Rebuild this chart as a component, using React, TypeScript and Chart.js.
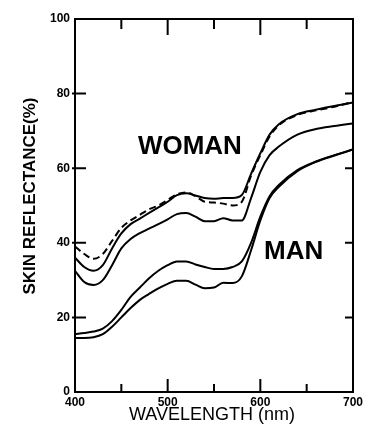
import React, { useEffect, useRef } from "react";
import { Chart, registerables } from "chart.js";

Chart.register(...registerables);

const wavelengths = [400, 410, 420, 430, 440, 450, 460, 470, 480, 490, 500, 510, 520, 530, 540, 550, 560, 570, 580, 590, 600, 610, 620, 640, 660, 680, 700];
const womanDashed = [39, 37, 35.7, 37, 40.5, 44, 46, 47.5, 49, 50, 51.5, 53, 53.5, 52.5, 51, 50.8, 50.5, 50, 51, 58, 63.5, 68.5, 71.5, 74.3, 75.5, 76.5, 77.8];
const womanUpper = [36, 33.5, 32.5, 34, 38.5, 42.5, 45, 46.5, 48, 49.5, 51, 52.8, 53.3, 52.7, 52, 51.8, 52, 52, 52.8, 58.5, 64, 69, 71.8, 74.5, 75.7, 76.7, 77.6];
const womanLower = [32.5, 29.5, 28.7, 30, 34, 38.5, 41, 42.6, 43.8, 45, 46.3, 47.7, 48, 47, 45.8, 45.8, 46.6, 46, 46, 52, 59, 63.5, 65.8, 69, 70.5, 71.3, 72];
const manUpper = [15.5, 15.8, 16.2, 17, 19, 22, 25.5, 28, 30.5, 32.5, 34, 35, 35, 34.2, 33.5, 33, 33, 33.5, 35, 40, 47, 52.5, 55.5, 59.5, 61.8, 63.5, 65];
const manLower = [14.5, 14.5, 14.7, 15.5, 17.5, 20, 22.5, 24.7, 26.3, 27.8, 29, 29.8, 29.8, 28.8, 27.8, 28, 29.3, 29.2, 31, 38, 46, 52, 55, 59.2, 61.7, 63.4, 65];

const xTicks = [400, 500, 600, 700];
const yTicks = [0, 20, 40, 60, 80, 100];
const xMinorMarks = [450, 550, 650];
const xMajorMarks = [500, 600];
const yMarks = [20, 40, 60, 80];
const xTitle = "WAVELENGTH (nm)";
const yTitle = "SKIN REFLECTANCE(%)";
const labels = [
  { text: "WOMAN", x: 524, y: 65.7 },
  { text: "MAN", x: 636, y: 37.5 },
];

const FONT = '"Liberation Sans", Arial, sans-serif';

const framePlugin = {
  id: "frame",
  afterDraw(chart: any) {
    const ctx = chart.ctx;
    const a = chart.chartArea;
    const xs = chart.scales.x;
    const ys = chart.scales.y;
    ctx.save();
    ctx.strokeStyle = "#000";
    ctx.lineWidth = 2;
    ctx.strokeRect(a.left, a.top, a.right - a.left, a.bottom - a.top);
    ctx.beginPath();
    xMinorMarks.forEach((v) => {
      const px = xs.getPixelForValue(v);
      ctx.moveTo(px, a.top); ctx.lineTo(px, a.top + 10);
      ctx.moveTo(px, a.bottom); ctx.lineTo(px, a.bottom - 8);
    });
    xMajorMarks.forEach((v) => {
      const px = xs.getPixelForValue(v);
      ctx.moveTo(px, a.top); ctx.lineTo(px, a.top + 16);
      ctx.moveTo(px, a.bottom); ctx.lineTo(px, a.bottom - 13);
    });
    yMarks.forEach((v) => {
      const py = ys.getPixelForValue(v);
      ctx.moveTo(a.left - 3, py); ctx.lineTo(a.left + 11, py);
      ctx.moveTo(a.right, py); ctx.lineTo(a.right - 8, py);
    });
    ctx.stroke();

    ctx.fillStyle = "#000";
    ctx.textAlign = "center";
    ctx.textBaseline = "middle";
    ctx.font = `18px ${FONT}`;
    ctx.fillText(xTitle, (a.left + a.right) / 2 - 2, 415);
    ctx.save();
    ctx.translate(30, 196);
    ctx.rotate(-Math.PI / 2);
    ctx.font = `bold 17px ${FONT}`;
    ctx.fillText(yTitle, 0, 0);
    ctx.restore();

    ctx.font = `bold 26px ${FONT}`;
    labels.forEach((l) => {
      ctx.fillText(l.text, xs.getPixelForValue(l.x), ys.getPixelForValue(l.y));
    });
    ctx.restore();
  },
};

export default function App() {
  const ref = useRef<HTMLCanvasElement>(null);
  useEffect(() => {
    if (!ref.current) return;
    const mk = (arr: number[]) => wavelengths.map((x, i) => ({ x, y: arr[i] }));
    const base = {
      borderColor: "#000",
      borderWidth: 2,
      pointRadius: 0,
      fill: false,
      cubicInterpolationMode: "monotone" as const,
    };
    const chart = new Chart(ref.current, {
      type: "line",
      data: {
        datasets: [
          { ...base, label: "Woman (dashed)", data: mk(womanDashed), borderDash: [7, 4] },
          { ...base, label: "Woman upper", data: mk(womanUpper) },
          { ...base, label: "Woman lower", data: mk(womanLower) },
          { ...base, label: "Man upper", data: mk(manUpper) },
          { ...base, label: "Man lower", data: mk(manLower) },
        ],
      },
      options: {
        responsive: false,
        animation: false,
        devicePixelRatio: 1,
        layout: { padding: { top: 19, right: 18, left: 0, bottom: 0 } },
        plugins: { legend: { display: false }, tooltip: { enabled: false } },
        scales: {
          x: {
            type: "linear",
            min: 400,
            max: 700,
            afterBuildTicks: (s: any) => { s.ticks = xTicks.map((v) => ({ value: v })); },
            afterFit: (s: any) => { s.height = 34; },
            grid: { display: false, drawTicks: false, tickLength: 0 },
            border: { display: false },
            ticks: { color: "#000", font: { family: FONT, size: 12, weight: "bold" }, padding: 3, maxRotation: 0 },
          },
          y: {
            type: "linear",
            min: 0,
            max: 100,
            afterBuildTicks: (s: any) => { s.ticks = yTicks.map((v) => ({ value: v })); },
            afterFit: (s: any) => { s.width = 75; },
            grid: { display: false, drawTicks: false, tickLength: 0 },
            border: { display: false },
            ticks: { color: "#000", font: { family: FONT, size: 12, weight: "bold" }, padding: 5 },
          },
        },
      },
      plugins: [framePlugin],
    } as any);
    return () => chart.destroy();
  }, []);
  return (
    <div style={{ position: "absolute", left: 0, top: 0, width: 371, height: 426, background: "#fff" }}>
      <canvas ref={ref} width={371} height={426} />
    </div>
  );
}
